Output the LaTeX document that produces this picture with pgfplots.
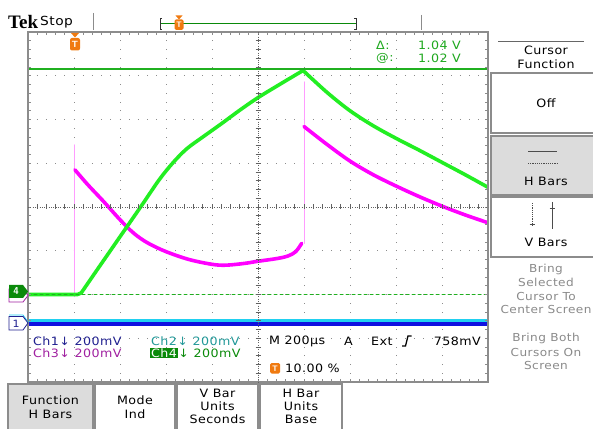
\documentclass[border=0pt]{standalone}
\usepackage{fontspec}
\usepackage{pgfplots}
\pgfplotsset{compat=1.18}
\setmainfont{DejaVu Sans}
\newfontfamily\tek[FakeStretch=1.1,LetterSpace=4]{DejaVu Sans}
\newfontfamily\tekserif{Liberation Serif}
\definecolor{trgreen}{HTML}{22EE22}
\definecolor{trmag}{HTML}{FF00FF}
\definecolor{trpink}{HTML}{FF9CFF}
\definecolor{trblue}{HTML}{1010E0}
\definecolor{trcyan}{HTML}{20D0F0}
\definecolor{c1}{HTML}{202090}
\definecolor{c2}{HTML}{209898}
\definecolor{c3}{HTML}{A020A0}
\definecolor{c4}{HTML}{0A8A0A}
\definecolor{curs}{HTML}{1EA81E}
\definecolor{cursline}{HTML}{20B020}
\definecolor{grat}{HTML}{8C8C8C}
\definecolor{orng}{HTML}{F07A10}
\definecolor{btn}{HTML}{DCDCDC}
\definecolor{gtxt}{HTML}{8A8A8A}
\newcommand\tf{\tek\fontsize{11.5}{13}\selectfont}
\newcommand\mf{\tek\fontsize{11.5}{13}\selectfont}
\begin{document}
\begin{tikzpicture}[x=1pt,y=1pt]
\useasboundingbox (0,0) rectangle (593,428);
\fill[white] (0,0) rectangle (593,428);
\begin{axis}[at={(28pt,46pt)},anchor=south west,scale only axis,
  width=460pt,height=350pt,xmin=0,xmax=10,ymin=0,ymax=8,
  xtick={1,...,9},ytick={1,...,7},xticklabels={},yticklabels={},
  major tick length=0pt,grid=major,
  x grid style={grat,line width=0.9pt,dash pattern=on 0.9pt off 7.85pt,dash phase=0.45pt},
  y grid style={grat,line width=0.9pt,dash pattern=on 0.9pt off 8.3pt,dash phase=0.45pt},
  axis line style={draw=none},clip=true,
  every axis plot/.append style={line cap=round,line join=round}]
\addplot[trcyan,line width=2.6pt] coordinates {(0,1.41)(10,1.41)};
\addplot[trblue,line width=3.8pt] coordinates {(0,1.33)(10,1.33)};
\addplot[trpink,line width=1pt] coordinates {(1.02,1.95)(1.02,5.42)};
\addplot[trpink,line width=1pt] coordinates {(6.0,3.17)(6.0,6.86)};
\addplot[trmag,line width=3.6pt,smooth,tension=0.55] coordinates {(1.02,4.85)(1.3,4.51)(1.64,4.13)(2.0,3.71)(2.3,3.40)(2.6,3.18)(3.0,2.98)(3.5,2.80)(4.0,2.69)(4.3,2.67)(4.7,2.71)(5.0,2.76)(5.4,2.82)(5.65,2.88)(5.82,2.98)(5.95,3.17)};
\addplot[trmag,line width=3.6pt,smooth,tension=0.55] coordinates {(6.0,5.84)(6.5,5.43)(7.0,5.05)(7.5,4.74)(8.0,4.48)(8.5,4.24)(9.0,4.02)(9.5,3.82)(10,3.64)};
\addplot[trgreen,line width=3.6pt] coordinates {(0,2.0)(1.08,2.0)(1.16,2.04)};
\addplot[trgreen,line width=3.6pt,smooth,tension=0.55] coordinates {(1.16,2.04)(1.5,2.56)(2.0,3.32)(2.5,4.08)(2.85,4.62)(3.15,5.01)(3.45,5.33)(3.8,5.60)(4.2,5.90)(4.6,6.21)(5.0,6.50)(5.5,6.82)(5.98,7.12)};
\addplot[trgreen,line width=3.6pt,smooth,tension=0.55] coordinates {(5.98,7.12)(6.5,6.62)(7.0,6.20)(7.5,5.86)(8.0,5.57)(8.5,5.30)(9.0,5.02)(9.5,4.74)(10,4.45)};
\addplot[cursline,line width=1pt,dash pattern=on 3pt off 3pt] coordinates {(0,2)(10,2)};
\end{axis}
\begin{scope}[shift={(0,428)},yscale=-1]
% cursor bar (solid)
\draw[cursline,line width=1.4pt] (28,69) -- (488,69);
% graticule border
\draw[grat,line width=2pt] (28,32) rectangle (488,382);
\foreach \i in {0,...,50} {\draw[grat,line width=0.8pt] (28+\i*9.2,32) -- ++(0,3); \draw[grat,line width=0.8pt] (28+\i*9.2,382) -- ++(0,-3);}
\foreach \j in {0,...,40} {\draw[grat,line width=0.8pt] (28,32+\j*8.75) -- ++(3,0); \draw[grat,line width=0.8pt] (488,32+\j*8.75) -- ++(-3,0);}
% center cross
\draw[grat!70!black,line width=0.8pt,dash pattern=on 0.8pt off 1.5pt] (28,207) -- (488,207);
\draw[grat!70!black,line width=0.8pt,dash pattern=on 0.8pt off 1.5pt] (258,32) -- (258,382);
\foreach \i in {1,...,49} {\draw[grat!70!black,line width=0.8pt] (28+\i*9.2,204.5) -- ++(0,5);}
\foreach \j in {1,...,39} {\draw[grat!70!black,line width=0.8pt] (255.5,32+\j*8.75) -- ++(5,0);}
% top status
\node[anchor=west,inner sep=0] at (8,22) {\tekserif\bfseries\fontsize{19}{19}\selectfont Tek};
\node[anchor=west,inner sep=0] at (40,22) {\tek\fontsize{12.5}{14}\selectfont Stop};
\draw[grat,line width=0.8pt] (93,13) -- (93,30);
\draw[grat,line width=0.8pt] (421,15) -- (421,30);
\draw[c4,line width=0.8pt] (160,23.5) -- (356,23.5);
\draw[black!80,line width=0.9pt] (162,18) -- (160,18) -- (160,29) -- (162,29);
\draw[black!80,line width=0.9pt] (354,18) -- (356,18) -- (356,29) -- (354,29);
\fill[orng] (175.5,15.5) -- (182.5,15.5) -- (179,19.5) -- cycle;
\fill[orng,rounded corners=1.5pt] (174.5,19.5) rectangle (183.5,30);
\node[text=white,inner sep=0,font=\sffamily\bfseries\fontsize{8}{8}\selectfont] at (179,25) {T};
% trigger marker in graticule
\fill[orng] (71,33) -- (79,33) -- (75,37.5) -- cycle;
\fill[orng,rounded corners=2pt] (70,38) rectangle (80,50.5);
\node[text=white,inner sep=0,font=\sffamily\bfseries\fontsize{9}{9}\selectfont] at (75,44.3) {T};
% cursor readout
\node[anchor=west,inner sep=0,text=curs] at (376,45) {\tf Δ:};
\node[anchor=west,inner sep=0,text=curs] at (376,58) {\tf @:};
\node[anchor=east,inner sep=0,text=curs] at (461,45) {\tf 1.04 V};
\node[anchor=east,inner sep=0,text=curs] at (461,58) {\tf 1.02 V};
% channel markers
\filldraw[fill=white,draw=c3,line width=0.8pt] (9,289) -- (23,289) -- (28,295.5) -- (23,302) -- (9,302) -- cycle;
\fill[c4] (9,285) -- (23,285) -- (28,291.5) -- (23,298) -- (9,298) -- cycle;
\node[text=white,inner sep=0,font=\sffamily\bfseries\fontsize{10}{10}\selectfont] at (16,291.5) {4};
\draw[trcyan,line width=0.8pt] (9,315) -- (23,315) -- (28,322) -- (23,329) -- (9,329);
\filldraw[fill=white,draw=c1,line width=0.8pt] (9,316.5) -- (23,316.5) -- (28,323) -- (23,330) -- (9,330) -- cycle;
\node[text=c1,inner sep=0,font=\tek\fontsize{10}{10}\selectfont] at (16,323.5) {1};
% channel readouts
\node[anchor=west,inner sep=0,text=c1] at (33,341) {\tf Ch1↓ 200mV};
\node[anchor=west,inner sep=0,text=c3] at (33,353) {\tf Ch3↓ 200mV};
\node[anchor=west,inner sep=0,text=c2] at (151,341) {\tf Ch2↓ 200mV};
\node[anchor=west,inner sep=1pt,fill=c4,text=white] (ch4) at (150,353) {\tf Ch4};
\node[anchor=west,inner sep=0,text=c4] at (ch4.east) {\tf ↓ 200mV};
\node[anchor=west,inner sep=0] at (269,341) {\tf M 200µs};
\node[anchor=west,inner sep=0] at (344,341) {\tf A};
\node[anchor=west,inner sep=0] at (371,341) {\tf Ext};
\draw[line width=1.3pt] (402,346) -- (405.5,346) -- (408,336) -- (411.5,336);
\node[anchor=east,inner sep=0] at (481,341) {\tf 758mV};
\fill[orng,rounded corners=1.5pt] (270,363) rectangle (280,373.5);
\node[text=white,inner sep=0,font=\sffamily\bfseries\fontsize{8}{8}\selectfont] at (275,368.3) {T};
\node[anchor=west,inner sep=0] at (285,368) {\tf 10.00 \%};
% right menu
\draw[black!60,line width=0.9pt] (498,41) -- (584,41);
\node[inner sep=0] at (546,50) {\mf Cursor};
\node[inner sep=0] at (546,64) {\mf Function};
\draw[grat,line width=1.2pt] (491,73) rectangle (600,133);
\node[inner sep=0] at (546,103) {\mf Off};
\filldraw[fill=btn,draw=black!45,line width=1.6pt] (491,136) rectangle (600,195);
\draw[black!70,line width=1pt] (528,152) -- (557,152);
\draw[black!70,line width=0.8pt,dash pattern=on 1.2pt off 1pt] (528,163) -- (557,163);
\node[inner sep=0] at (546,181) {\mf H Bars};
\draw[grat,line width=1.2pt] (491,197) rectangle (600,257);
\draw[black!70,line width=0.8pt,dash pattern=on 1.2pt off 1pt] (532,203) -- (532,226);
\draw[black!70,line width=0.8pt] (529.5,224) -- (534.5,224);
\draw[black!70,line width=1pt] (552,202) -- (552,229);
\draw[black!70,line width=0.8pt] (549.5,208) -- (554.5,208);
\node[inner sep=0] at (546,242) {\mf V Bars};
\foreach \t/\yy in {Bring/269,Selected/282,Cursor To/296,Center Screen/309,Bring Both/338,Cursors On/352,Screen/365}
  {\node[inner sep=0,text=gtxt] at (546,\yy) {\tek\fontsize{11}{13}\selectfont \t};}
% bottom buttons
\filldraw[fill=btn,draw=black!45,line width=1.6pt] (8,384) rectangle (93,432);
\draw[grat,line width=1.2pt] (95,384) rectangle (175,432);
\draw[grat,line width=1.2pt] (177,384) rectangle (258,432);
\draw[grat,line width=1.2pt] (260,384) rectangle (342,432);
\node[inner sep=0] at (50.5,400) {\mf Function};
\node[inner sep=0] at (50.5,414) {\mf H Bars};
\node[inner sep=0] at (135,400) {\mf Mode};
\node[inner sep=0] at (135,414) {\mf Ind};
\node[inner sep=0] at (217.5,393) {\mf V Bar};
\node[inner sep=0] at (217.5,406) {\mf Units};
\node[inner sep=0] at (217.5,419) {\mf Seconds};
\node[inner sep=0] at (301,393) {\mf H Bar};
\node[inner sep=0] at (301,406) {\mf Units};
\node[inner sep=0] at (301,419) {\mf Base};
\end{scope}
\end{tikzpicture}
\end{document}
